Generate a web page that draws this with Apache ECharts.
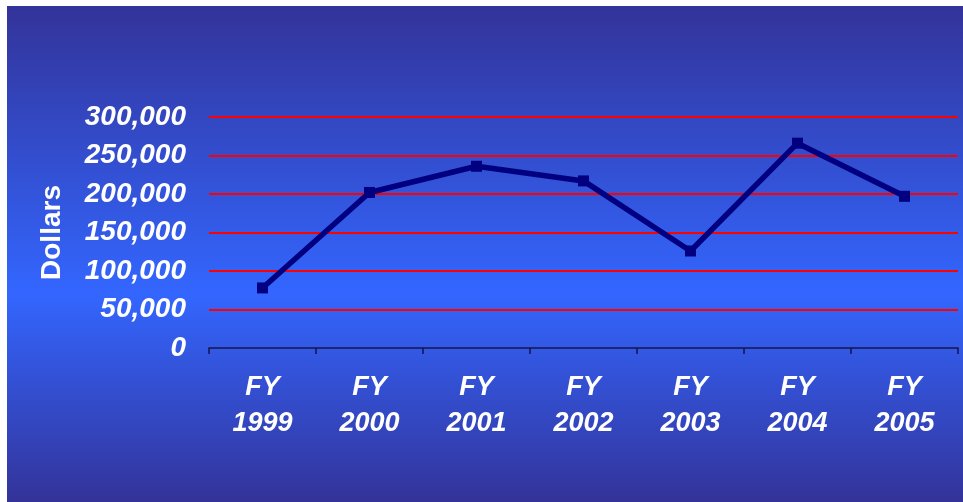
<!DOCTYPE html>
<html>
<head>
<meta charset="utf-8">
<script src="https://cdn.jsdelivr.net/npm/echarts@6/dist/echarts.min.js"></script>
<style>
  html, body { margin: 0; padding: 0; background: #ffffff; }
  #chart { width: 963px; height: 502px; }
</style>
</head>
<body>
<div id="chart"></div>
<script>
// Fiscal-year spending, in dollars
const years = ['FY\n1999', 'FY\n2000', 'FY\n2001', 'FY\n2002', 'FY\n2003', 'FY\n2004', 'FY\n2005'];
const dollars = [78000, 202000, 236000, 217000, 126000, 266000, 197000];
const yTicks = { min: 0, max: 300000, interval: 50000 };

const labelFont = {
  color: '#ffffff',
  fontFamily: 'Liberation Sans, Arial, sans-serif',
  fontWeight: 'bold',
  fontStyle: 'italic',
  fontSize: 27
};

const chart = echarts.init(document.getElementById('chart'), null, { renderer: 'canvas' });

chart.setOption({
  backgroundColor: '#ffffff',
  animation: false,
  graphic: [{
    type: 'rect',
    z: -10,
    shape: { x: 7, y: 6, width: 956, height: 496 },
    style: {
      fill: new echarts.graphic.LinearGradient(0, 0, 0, 1, [
        { offset: 0, color: '#333399' },
        { offset: 0.58, color: '#3366ff' },
        { offset: 1, color: '#333399' }
      ])
    }
  }],
  grid: { left: 209, right: 5, top: 117, bottom: 154 },
  xAxis: {
    type: 'category',
    data: years,
    boundaryGap: true,
    axisLine: { show: true, lineStyle: { color: '#15154a', width: 1.5 } },
    axisTick: { show: true, length: 6, lineStyle: { color: '#15154a', width: 1.5 } },
    axisLabel: Object.assign({ margin: 22, lineHeight: 36, align: 'center' }, labelFont),
    splitLine: { show: false }
  },
  yAxis: {
    type: 'value',
    min: yTicks.min,
    max: yTicks.max,
    interval: yTicks.interval,
    name: 'Dollars',
    nameLocation: 'middle',
    nameGap: 143,
    nameRotate: 90,
    nameTextStyle: {
      color: '#ffffff',
      fontFamily: 'Liberation Sans, Arial, sans-serif',
      fontWeight: 'bold',
      fontSize: 28
    },
    axisLine: { show: false },
    axisTick: { show: false },
    axisLabel: Object.assign({
      margin: 23,
      formatter: v => v.toLocaleString('en-US')
    }, labelFont, { fontSize: 28 }),
    splitLine: {
      show: true,
      lineStyle: { color: ['transparent', '#ff0000', '#ff0000', '#ff0000', '#ff0000', '#ff0000', '#ff0000'], width: 2 }
    }
  },
  series: [{
    type: 'line',
    data: dollars,
    symbol: 'rect',
    symbolSize: 11,
    lineStyle: { color: '#000080', width: 5.5 },
    itemStyle: { color: '#000080' },
    z: 5
  }]
});
</script>
</body>
</html>
